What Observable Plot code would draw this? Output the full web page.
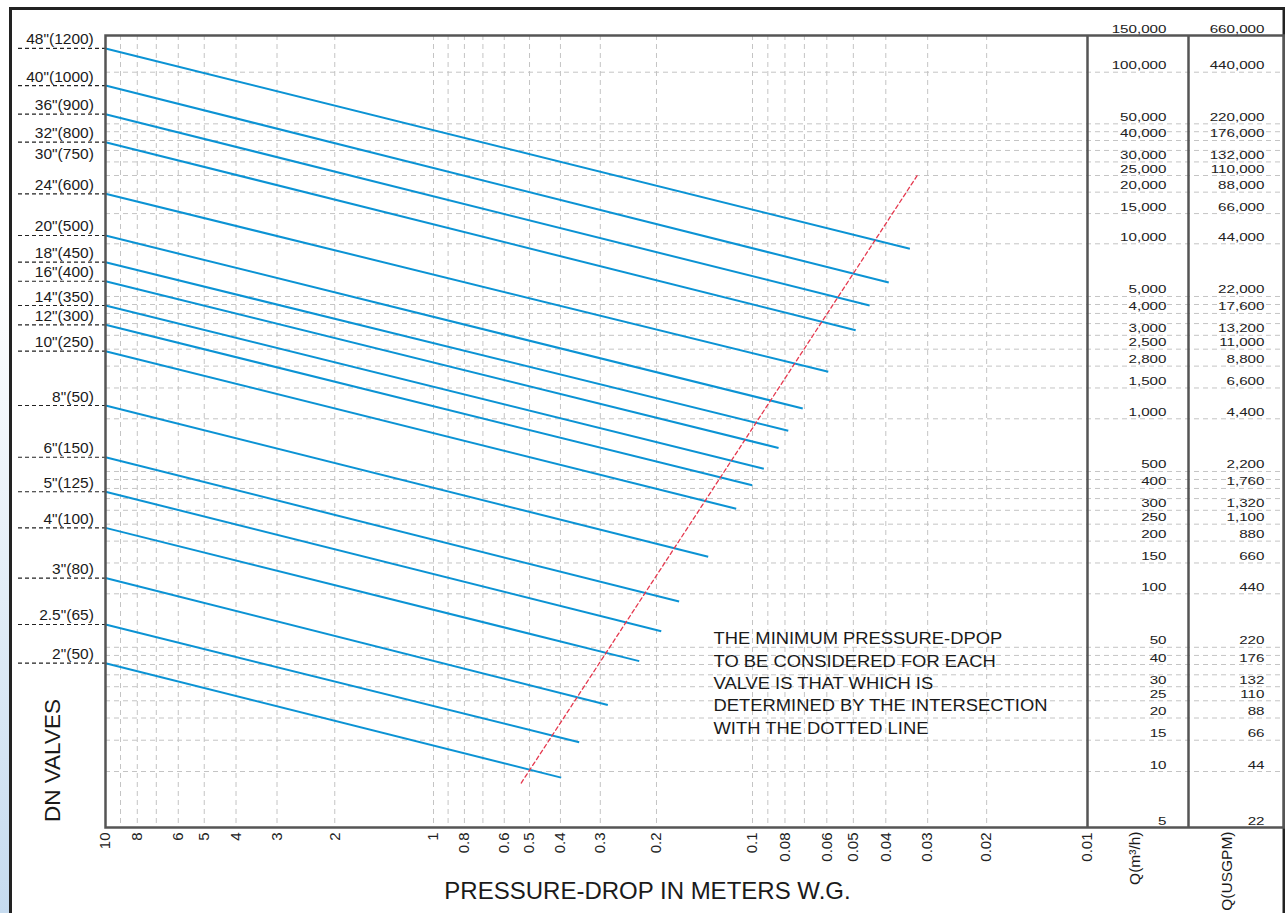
<!DOCTYPE html>
<html>
<head>
<meta charset="utf-8">
<script src="https://cdn.jsdelivr.net/npm/d3@7"></script>
<script src="https://cdn.jsdelivr.net/npm/@observablehq/plot@0.6"></script>
<style>
  html, body { margin: 0; padding: 0; background: #fff; }
  #chart svg { display: block; }
</style>
</head>
<body>
<div id="chart"></div>
<script>
// ---------------- DATA ----------------
const START_DROP = 10; // every valve line starts at 10 m W.G.

const valveLabels = ['48"(1200)', '40"(1000)', '36"(900)', '32"(800)', '24"(600)', '20"(500)', '18"(450)', '16"(400)',
  '14"(350)', '12"(300)', '10"(250)', '8"(50)', '6"(150)', '5"(125)', '4"(100)', '3"(80)', '2.5"(65)', '2"(50)'];
// flow (m3/h) at 10 m pressure drop
const qAt10m = [130000, 83600, 56900, 39100, 19560, 11180, 7850, 6110, 4440, 3445, 2434, 1191, 603, 383, 238, 123, 67.2, 40.7];
// pressure drop and flow at the right end of each valve line
const dropEnd = [0.0339, 0.0392, 0.0447, 0.0492, 0.0594, 0.0708, 0.0782, 0.0836, 0.0925, 0.1002, 0.1125, 0.1377, 0.1698, 0.1932, 0.2265, 0.2842, 0.3494, 0.3978];
const qEnd = [9363, 6010, 4440, 3209, 1856, 1145, 854, 681, 518, 417, 306, 163, 90.5, 61.6, 41.8, 23.7, 14.6, 9.27];
const sharedLabel = '30"(750)'; // drawn under the 32" line (same line)
const sharedIndex = 3;

// right scales
const qTicks = [150000, 100000, 50000, 40000, 30000, 25000, 20000, 15000, 10000, 5000, 4000, 3000, 2500, 2000, 1500, 1000,
  500, 400, 300, 250, 200, 150, 100, 50, 40, 30, 25, 20, 15, 10, 5];
const qLabels = ["150,000", "100,000", "50,000", "40,000", "30,000", "25,000", "20,000", "15,000", "10,000", "5,000", "4,000",
  "3,000", "2,500", "2,800", "1,500", "1,000", "500", "400", "300", "250", "200", "150", "100", "50", "40", "30", "25", "20", "15", "10", "5"];
const usgpmLabels = ["660,000", "440,000", "220,000", "176,000", "132,000", "110,000", "88,000", "66,000", "44,000", "22,000", "17,600",
  "13,200", "11,000", "8,800", "6,600", "4,400", "2,200", "1,760", "1,320", "1,100", "880", "660", "440", "220", "176", "132", "110", "88", "66", "44", "22"];
const qGrid = [100000, 50000, 45000, 40000, 35000, 30000, 25000, 20000, 15000, 10000, 5000, 4500, 4000, 3500, 3000, 2500, 2000, 1500, 1000,
  500, 450, 400, 350, 300, 250, 200, 150, 100, 50, 45, 40, 35, 30, 25, 20, 15, 10];

// bottom scale (pressure drop, m W.G.)
const dropTicks = [10, 8, 6, 5, 4, 3, 2, 1, 0.8, 0.6, 0.5, 0.4, 0.3, 0.2, 0.1, 0.08, 0.06, 0.05, 0.04, 0.03, 0.02, 0.01];
const dropTickLabels = ["10", "8", "6", "5", "4", "3", "2", "1", "0.8", "0.6", "0.5", "0.4", "0.3", "0.2", "0.1", "0.08", "0.06", "0.05", "0.04", "0.03", "0.02", "0.01"];
const dropGrid = [9, 8, 7, 6, 5, 4, 3, 2, 1, 0.9, 0.8, 0.7, 0.6, 0.5, 0.4, 0.3, 0.2, 0.1, 0.09, 0.08, 0.07, 0.06, 0.05, 0.04, 0.03, 0.02];

// dotted "minimum pressure drop" line
const minLineDrop = [0.531, 0.0319];
const minLineQ = [8.67, 25790];

const noteLines = ["THE MINIMUM PRESSURE-DPOP", "TO BE CONSIDERED FOR EACH", "VALVE IS THAT WHICH IS", "DETERMINED BY THE INTERSECTION", "WITH THE DOTTED LINE"];
const noteDrop = 0.1325, noteQ = 63.8;

const xTitle = "PRESSURE-DROP IN METERS W.G.";
const yTitle = "DN VALVES";
const col1Title = "Q(m³/h)";
const col2Title = "Q(USGPM)";

// ---------------- TABLES ----------------
const valves = valveLabels.map((label, i) => ({label, q10: qAt10m[i], dropEnd: dropEnd[i], qEnd: qEnd[i]}));
const qRows = qTicks.map((q, i) => ({q, m3h: qLabels[i], gpm: usgpmLabels[i]}));
const minLine = minLineDrop.map((d, i) => ({drop: d, q: minLineQ[i]}));
const xTickRows = dropTicks.map((v, i) => ({v, label: dropTickLabels[i]}));

const FONT = "'Liberation Sans', Arial, Helvetica, sans-serif";
const BLUE = "#0b93d4";
const GRID = "#c4c4c4";

const chart = Plot.plot({
  width: 1285,
  height: 913,
  marginLeft: 105,
  marginRight: 198,
  marginTop: 35,
  marginBottom: 86,
  style: {
    fontFamily: FONT,
    background: "linear-gradient(180deg, #ffffff 0%, #ffffff 30%, #c6dbef 100%)",
    overflow: "visible"
  },
  x: {type: "log", domain: [10, 1, 0.1, 0.01], range: [105, 433, 752, 1087], axis: null},
  y: {type: "log", domain: [5, 10, 100, 1000, 10000, 100000, 150000], range: [827, 771, 593.3, 418.3, 243.3, 71.7, 35], axis: null},
  marks: [
    // outer sheet frame
    Plot.frame({fill: "white", stroke: "#222", strokeWidth: 3, insetLeft: -95, insetTop: -27, insetRight: -196.5, insetBottom: -100}),
    // grid
    Plot.ruleX(dropGrid, {stroke: GRID, strokeWidth: 1, strokeDasharray: "5,4"}),
    Plot.ruleY(qGrid, {stroke: GRID, strokeWidth: 1, strokeDasharray: "5,4", insetRight: -196.5}),
    // DN label leader lines
    Plot.ruleY(valves, {y: "q10", stroke: "#222", strokeWidth: 1.2, strokeDasharray: "4,3", insetLeft: -87, insetRight: 982}),
    // valve lines
    Plot.link(valves, {x1: () => START_DROP, y1: "q10", x2: "dropEnd", y2: "qEnd", stroke: BLUE, strokeWidth: 2}),
    // minimum pressure-drop dotted line
    Plot.line(minLine, {x: "drop", y: "q", stroke: "#e5394f", strokeWidth: 1.3, strokeDasharray: "4,3"}),
    // inner frame and column dividers
    Plot.frame({stroke: "#555", strokeWidth: 2.5, insetRight: -196.5}),
    Plot.ruleX([0.01], {stroke: "#555", strokeWidth: 2.5}),
    Plot.ruleX([0.01], {stroke: "#555", strokeWidth: 2.5, dx: 101}),
    // bottom tick labels (rotated)
    Plot.text(xTickRows, {x: "v", text: "label", frameAnchor: "bottom", dy: 5, rotate: -90, textAnchor: "end", lineAnchor: "middle",
      fontSize: 15, fontFamily: FONT, fill: "#222"}),
    // right columns
    Plot.text(qRows, {y: "q", text: "m3h", frameAnchor: "right", dx: 79, dy: -3, textAnchor: "end", lineAnchor: "bottom",
      fontSize: 11.5, fontFamily: FONT, fill: "#222"}),
    Plot.text(qRows, {y: "q", text: "gpm", frameAnchor: "right", dx: 177, dy: -3, textAnchor: "end", lineAnchor: "bottom",
      fontSize: 11.5, fontFamily: FONT, fill: "#222"}),
    // left DN labels
    Plot.text(valves, {y: "q10", text: "label", frameAnchor: "left", dx: -11.7, dy: -4, textAnchor: "end", lineAnchor: "bottom",
      fontSize: 15.5, fontFamily: FONT, fill: "#1a1a1a"}),
    Plot.text([sharedLabel], {y: () => qAt10m[sharedIndex], text: d => d, frameAnchor: "left", dx: -11.7, dy: 5.5, textAnchor: "end", lineAnchor: "top",
      fontSize: 15.5, fontFamily: FONT, fill: "#1a1a1a"}),
    // titles
    Plot.text([xTitle], {text: d => d, frameAnchor: "bottom", dx: 51, dy: 71, lineAnchor: "bottom", fontSize: 24, fontFamily: FONT, fill: "#1a1a1a"}),
    Plot.text([yTitle], {text: d => d, frameAnchor: "bottom-left", dx: -52.5, dy: -67, rotate: -90, textAnchor: "middle", lineAnchor: "middle",
      fontSize: 22.5, fontFamily: FONT, fill: "#1a1a1a"}),
    Plot.text([col1Title], {text: d => d, frameAnchor: "bottom-right", dx: 48, dy: 4, rotate: -90, textAnchor: "end", lineAnchor: "middle",
      fontSize: 15.5, fontFamily: FONT, fill: "#1a1a1a"}),
    Plot.text([col2Title], {text: d => d, frameAnchor: "bottom-right", dx: 140, dy: 4, rotate: -90, textAnchor: "end", lineAnchor: "middle",
      fontSize: 15.5, fontFamily: FONT, fill: "#1a1a1a"}),
    // note
    Plot.text([noteLines.join("\n")], {x: () => noteDrop, y: () => noteQ, text: d => d, textAnchor: "start", lineAnchor: "top",
      lineHeight: 1.34, fontSize: 16.7, fontFamily: FONT, fill: "#1a1a1a"})
  ]
});

document.getElementById("chart").appendChild(chart);

// horizontal stretch of the printed labels (wide typeface in the original)
function stretch(el, s) {
  const t = el.getAttribute("transform");
  if (t) {
    el.setAttribute("transform", t + ` scale(${s},1)`);
  } else {
    const len = el.getComputedTextLength();
    el.setAttribute("textLength", len * s);
    el.setAttribute("lengthAdjust", "spacingAndGlyphs");
  }
}
const wide = new Set([...qLabels, ...usgpmLabels]);
chart.querySelectorAll("text").forEach(el => {
  const txt = el.textContent;
  const isTick = (el.getAttribute("transform") || "").includes("rotate");
  if (wide.has(txt) && !isTick) stretch(el, 1.32);
  else if (txt.startsWith("THE MINIMUM")) stretch(el, 1.1);
});
</script>
</body>
</html>
